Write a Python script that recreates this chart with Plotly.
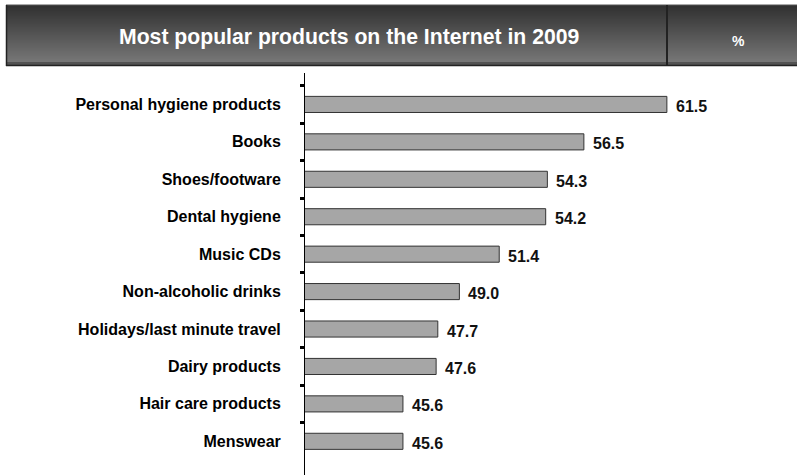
import plotly.graph_objects as go

categories = [
    "Personal hygiene products", "Books", "Shoes/footware", "Dental hygiene",
    "Music CDs", "Non-alcoholic drinks", "Holidays/last minute travel",
    "Dairy products", "Hair care products", "Menswear",
]
values = [61.5, 56.5, 54.3, 54.2, 51.4, 49.0, 47.7, 47.6, 45.6, 45.6]
title_text = "Most popular products on the Internet in 2009"
unit_text = "%"

W, H = 797, 475
ML, MR, MT, MB = 305, 0, 73, 0
PW, PH = W - ML - MR, H - MT - MB

def xp(px):
    return (px - ML) / PW

def yp(py):
    return (H - MB - py) / PH

FONT = "Liberation Sans, Arial, sans-serif"

fig = go.Figure()
fig.add_trace(go.Bar(
    x=values, y=categories, orientation="h",
    marker=dict(color="#a6a6a6", line=dict(color="#333333", width=1)),
    hoverinfo="x+y",
))

annotations = []
for c, v in zip(categories, values):
    annotations.append(dict(
        x=v, y=c, xref="x", yref="y", text=f"<b>{v:.1f}</b>",
        showarrow=False, xanchor="left", yanchor="middle", xshift=7, yshift=-2,
        font=dict(family=FONT, size=16, color="#111111"),
    ))

# header with vertical gradient
shapes = []
top, bot = 5, 62
n = 57
for i in range(n):
    t = i / (n - 1)
    c = int(round(48 + t * (118 - 48)))
    y0 = top + (bot - top) * i / n
    shapes.append(dict(type="rect", xref="paper", yref="paper",
                       x0=xp(6), x1=xp(W + 2), y0=yp(bot), y1=yp(y0),
                       fillcolor=f"rgb({c},{c},{c})", line=dict(width=0), layer="above"))
shapes.append(dict(type="rect", xref="paper", yref="paper",
                   x0=xp(6), x1=xp(W + 2), y0=yp(65), y1=yp(62),
                   fillcolor="rgb(82,82,82)", line=dict(width=0), layer="above"))
shapes.append(dict(type="line", xref="paper", yref="paper",
                   x0=xp(6), x1=xp(W + 2), y0=yp(65.5), y1=yp(65.5),
                   line=dict(color="#222222", width=1.5), layer="above"))
shapes.append(dict(type="line", xref="paper", yref="paper",
                   x0=xp(6), x1=xp(W + 2), y0=yp(5), y1=yp(5),
                   line=dict(color="#555555", width=1), layer="above"))
shapes.append(dict(type="line", xref="paper", yref="paper",
                   x0=xp(6.5), x1=xp(6.5), y0=yp(5), y1=yp(66),
                   line=dict(color="#222222", width=1.5), layer="above"))
shapes.append(dict(type="line", xref="paper", yref="paper",
                   x0=xp(667), x1=xp(667), y0=yp(5), y1=yp(65),
                   line=dict(color="#222222", width=2), layer="above"))

annotations.append(dict(
    x=xp(349), y=yp(37), xref="paper", yref="paper", text=f"<b>{title_text}</b>",
    showarrow=False, xanchor="center", yanchor="middle",
    font=dict(family=FONT, size=21.2, color="white"),
))
annotations.append(dict(
    x=xp(738), y=yp(41), xref="paper", yref="paper", text=f"<b>{unit_text}</b>",
    showarrow=False, xanchor="center", yanchor="middle",
    font=dict(family=FONT, size=14, color="white"),
))

SCALE = 16.6
X0 = 39.7

fig.update_layout(
    width=W, height=H,
    margin=dict(l=ML, r=MR, t=MT, b=MB, pad=0),
    paper_bgcolor="white", plot_bgcolor="white",
    showlegend=False, bargap=0.57,
    shapes=shapes, annotations=annotations,
    xaxis=dict(range=[X0, X0 + PW / SCALE], visible=False, showgrid=False, zeroline=False),
    yaxis=dict(
        range=[9.9, -0.84], type="category", showgrid=False, zeroline=False,
        showline=True, linecolor="black", linewidth=1,
        ticks="outside", tickson="boundaries", ticklen=4, tickwidth=3, tickcolor="black",
        ticklabelstandoff=20,
        tickfont=dict(family=FONT, size=16, color="#000000", weight="bold"),
    ),
)

fig.write_html(
    "out.html",
    config={"displayModeBar": False},
    post_script="document.body.style.margin='0';document.body.style.overflow='hidden';",
)
